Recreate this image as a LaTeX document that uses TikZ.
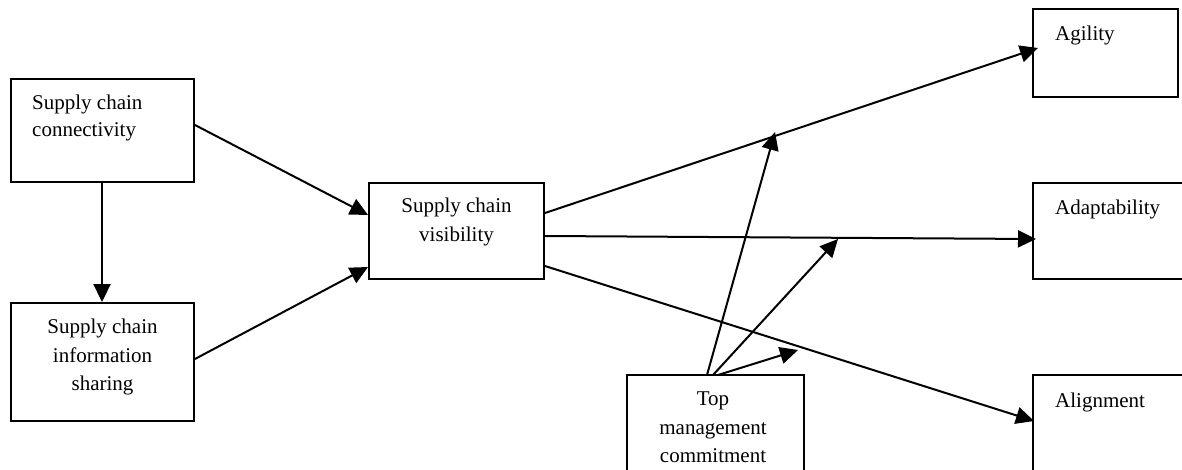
\documentclass[tikz,border=0pt]{standalone}
\usepackage{fontspec}
\setmainfont{Liberation Serif}
\usetikzlibrary{arrows.meta}
\begin{document}
\begin{tikzpicture}[x=1pt,y=-1pt,
  box/.style={draw, line width=1.9pt, rectangle, inner sep=0pt},
  txt/.style={inner sep=0pt, font=\fontsize{21}{28.5}\selectfont},
  conn/.style={line width=2pt, -{Triangle[length=18pt,width=17pt]}}]
\useasboundingbox (0,0) rectangle (1182,470);
% boxes
\node[box, minimum width=183pt, minimum height=103pt] (c1) at (102.5,130.5) {};
\node[box, minimum width=183pt, minimum height=118pt] (c2) at (102.5,362) {};
\node[box, minimum width=175pt, minimum height=96pt] (vis) at (456.5,231) {};
\node[box, minimum width=145pt, minimum height=88pt] (ag) at (1105.5,53) {};
\node[box, minimum width=170pt, minimum height=96pt] (ad) at (1118,231) {};
\node[box, minimum width=170pt, minimum height=130pt] (al) at (1118,440) {};
\node[box, minimum width=177pt, minimum height=130pt] (top) at (715.5,440) {};
% texts
\node[txt, anchor=base west] (c1a) at (32,110) {Supply chain};
\node[txt, anchor=base west] (c1b) at (32,137) {connectivity};
\node[txt, anchor=base] (c2a) at (102.5,333) {Supply chain};
\node[txt, anchor=base] (c2b) at (102.5,362) {information};
\node[txt, anchor=base] (c2c) at (102.5,390) {sharing};
\node[txt, anchor=base] (visa) at (456.5,213) {Supply chain};
\node[txt, anchor=base] (visb) at (456.5,242) {visibility};
\node[txt, anchor=base west] (agt) at (1055,41) {Agility};
\node[txt, anchor=base west] (adt) at (1055,215) {Adaptability};
\node[txt, anchor=base west] (alt) at (1055,407) {Alignment};
\node[txt, anchor=base] (topa) at (713,405) {Top};
\node[txt, anchor=base] (topb) at (713,434) {management};
\node[txt, anchor=base] (topc) at (713,462) {commitment};
% connection points
\coordinate (c1d) at (102,0 |- c1.south);
\coordinate (c2u) at (102,0 |- c2.north);
\coordinate (c1o) at (c1.east |- 0,125);
\coordinate (c2o) at (c2.east |- 0,359);
\coordinate (vi1) at (vis.west |- 0,215);
\coordinate (vi2) at (vis.west |- 0,267);
\coordinate (vo1) at (vis.east |- 0,213);
\coordinate (vo2) at (vis.east |- 0,236);
\coordinate (vo3) at (vis.east |- 0,266);
\coordinate (agi) at (1038,48);
\coordinate (adi) at (1036,239);
\coordinate (ali) at (1034,421);
\coordinate (t1) at (707,375);
\coordinate (t2) at (713,375);
\coordinate (t3) at (718,375);
\coordinate (m1) at (775,132);
\coordinate (m2) at (838,239);
\coordinate (m3) at (798,350);
% connectors
\draw[conn] (c1d) -- (c2u);
\draw[conn] (c1o) -- (vi1);
\draw[conn] (c2o) -- (vi2);
\draw[conn] (vo1) -- (agi);
\draw[conn] (vo2) -- (adi);
\draw[conn] (vo3) -- (ali);
\draw[conn] (t1) -- (m1);
\draw[conn] (t2) -- (m2);
\draw[conn] (t3) -- (m3);
\end{tikzpicture}
\end{document}
